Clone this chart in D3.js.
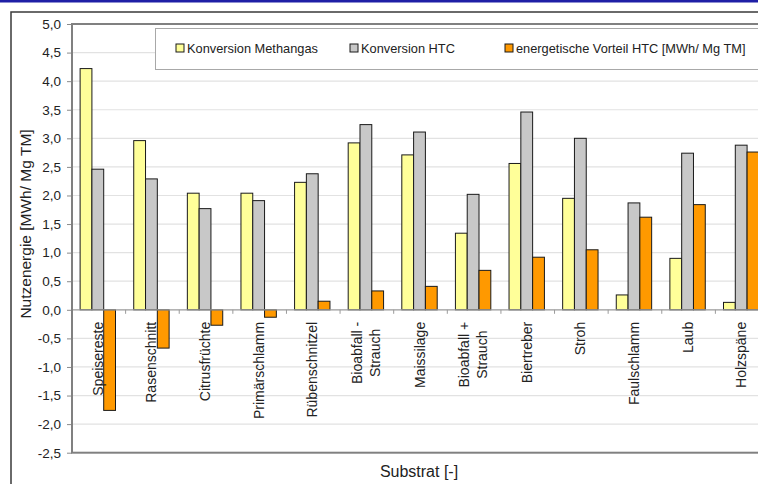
<!DOCTYPE html>
<html>
<head>
<meta charset="utf-8">
<script src="https://cdn.jsdelivr.net/npm/d3@7"></script>
<style>
  html, body { margin: 0; padding: 0; background: #fff; }
  svg { display: block; font-family: "Liberation Sans", Arial, sans-serif; }
</style>
</head>
<body>
<svg id="chart" width="758" height="484"></svg>
<script>
// Substrates (line breaks inside a name are drawn as separate lines)
const categories = ["Speisereste", "Rasenschnitt", "Citrusfrüchte", "Primärschlamm", "Rübenschnitzel",
  "Bioabfall -\nStrauch", "Maissilage", "Bioabfall +\nStrauch", "Biertreber", "Stroh",
  "Faulschlamm", "Laub", "Holzspäne"];

// Usable energy per substrate [MWh / Mg TM]
const methangas = [4.22, 2.96, 2.04, 2.04, 2.23, 2.92, 2.71, 1.34, 2.56, 1.95, 0.26, 0.90, 0.13];
const htc       = [2.46, 2.29, 1.77, 1.91, 2.38, 3.24, 3.11, 2.02, 3.46, 3.00, 1.87, 2.74, 2.88];
const vorteil   = [-1.76, -0.67, -0.27, -0.13, 0.15, 0.33, 0.41, 0.69, 0.92, 1.05, 1.62, 1.84, 2.76];

const seriesNames = ["Konversion Methangas", "Konversion HTC", "energetische Vorteil HTC [MWh/ Mg TM]"];
const seriesColors = ["#FFFF99", "#C8C8C8", "#FF9900"];
const yTicks = [-2.5, -2.0, -1.5, -1.0, -0.5, 0.0, 0.5, 1.0, 1.5, 2.0, 2.5, 3.0, 3.5, 4.0, 4.5, 5.0];

const svg = d3.select("#chart");

// page decoration: blue rule at the top and the outer chart frame
svg.append("rect").attr("x", 0).attr("y", 0).attr("width", 758).attr("height", 2.5).attr("fill", "#1f1fa6");
svg.append("rect").attr("x", 11).attr("y", 12).attr("width", 800).attr("height", 520)
  .attr("fill", "none").attr("stroke", "#3a3a3a").attr("stroke-width", 1.5);

const plot = { left: 72, right: 769, top: 24, bottom: 452.7 };

const x = d3.scaleBand().domain(d3.range(categories.length)).range([plot.left, plot.right]).padding(0);
const y = d3.scaleLinear().domain([-2.5, 5]).range([plot.bottom, plot.top]);

const barW = x.bandwidth() * 0.22;
const sub = d3.scaleBand().domain([0, 1, 2]).range([0, barW * 3]);
const groupOffset = (x.bandwidth() - barW * 3) / 2 - 1;

// gridlines
svg.append("g").selectAll("line").data(yTicks.filter(t => t !== -2.5 && t !== 5 && t !== 0)).join("line")
  .attr("x1", plot.left).attr("x2", plot.right)
  .attr("y1", d => y(d)).attr("y2", d => y(d))
  .attr("stroke", "#e2e2e2").attr("stroke-width", 1.2);

// y axis with comma decimals
const yAxis = d3.axisLeft(y).tickValues(yTicks).tickSize(5).tickPadding(6)
  .tickFormat(d => d3.format(".1f")(d).replace(".", ",").replace("−", "-"));
const yg = svg.append("g").attr("transform", `translate(${plot.left},0)`).call(yAxis);
yg.select(".domain").remove();
yg.selectAll(".tick line").attr("stroke", "#8a8a8a");
yg.selectAll(".tick text").attr("font-size", 13.5).attr("fill", "#222").attr("font-family", null);

// bars
const series = [methangas, htc, vorteil];
series.forEach((vals, s) => {
  svg.append("g").selectAll("rect").data(vals).join("rect")
    .attr("x", (d, i) => x(i) + groupOffset + sub(s))
    .attr("width", barW)
    .attr("y", d => y(Math.max(0, d)))
    .attr("height", d => Math.abs(y(d) - y(0)))
    .attr("fill", seriesColors[s])
    .attr("stroke", "#1a1a1a").attr("stroke-width", 1);
});

// zero line with category ticks
svg.append("line").attr("x1", plot.left).attr("x2", plot.right)
  .attr("y1", y(0)).attr("y2", y(0)).attr("stroke", "#9a9a9a").attr("stroke-width", 1.2);
svg.append("g").selectAll("line").data(d3.range(1, categories.length)).join("line")
  .attr("x1", d => x(d)).attr("x2", d => x(d))
  .attr("y1", y(0)).attr("y2", y(0) + 4)
  .attr("stroke", "#9a9a9a");

// plot border
svg.append("rect").attr("x", plot.left).attr("y", plot.top)
  .attr("width", plot.right - plot.left).attr("height", plot.bottom - plot.top)
  .attr("fill", "none").attr("stroke", "#808080").attr("stroke-width", 2);

// category labels, rotated, ending just below the zero line
const labelTop = y(0) + 12;
const lineGap = 18;
categories.forEach((name, i) => {
  const lines = name.split("\n");
  const cx = x(i) + x.bandwidth() / 2 - 1;
  const t = svg.append("text")
    .attr("transform", `translate(${cx},${labelTop}) rotate(-90)`)
    .attr("font-size", 14).attr("fill", "#222");
  lines.forEach((ln, k) => {
    t.append("tspan")
      .attr("x", 0)
      .attr("y", (k - (lines.length - 1) / 2) * lineGap + 5)
      .text(ln);
  });
  if (lines.length === 1) {
    t.attr("text-anchor", "end");
  } else {
    let maxLen = 0;
    t.selectAll("tspan").each(function () { maxLen = Math.max(maxLen, this.getComputedTextLength()); });
    t.attr("text-anchor", "middle");
    t.selectAll("tspan").attr("x", -maxLen / 2);
  }
});

// axis titles
svg.append("text").attr("transform", "translate(31,224) rotate(-90)")
  .attr("text-anchor", "middle").attr("font-size", 15.5).attr("fill", "#222")
  .text("Nutzenergie [MWh/ Mg TM]");
svg.append("text").attr("x", 419).attr("y", 477)
  .attr("text-anchor", "middle").attr("font-size", 16).attr("fill", "#222")
  .text("Substrat [-]");

// legend
const lg = svg.append("g");
lg.append("rect").attr("x", 155.5).attr("y", 28.5).attr("width", 620).attr("height", 41)
  .attr("fill", "#fff").attr("stroke", "#a8a8a8").attr("stroke-width", 1);
const legendX = [176, 350, 505];
seriesNames.forEach((n, s) => {
  lg.append("rect").attr("x", legendX[s]).attr("y", 44).attr("width", 8).attr("height", 8)
    .attr("fill", seriesColors[s]).attr("stroke", "#1a1a1a").attr("stroke-width", 1);
  lg.append("text").attr("x", legendX[s] + 11).attr("y", 53)
    .attr("font-size", 12.8).attr("fill", "#222").text(n);
});
</script>
</body>
</html>
